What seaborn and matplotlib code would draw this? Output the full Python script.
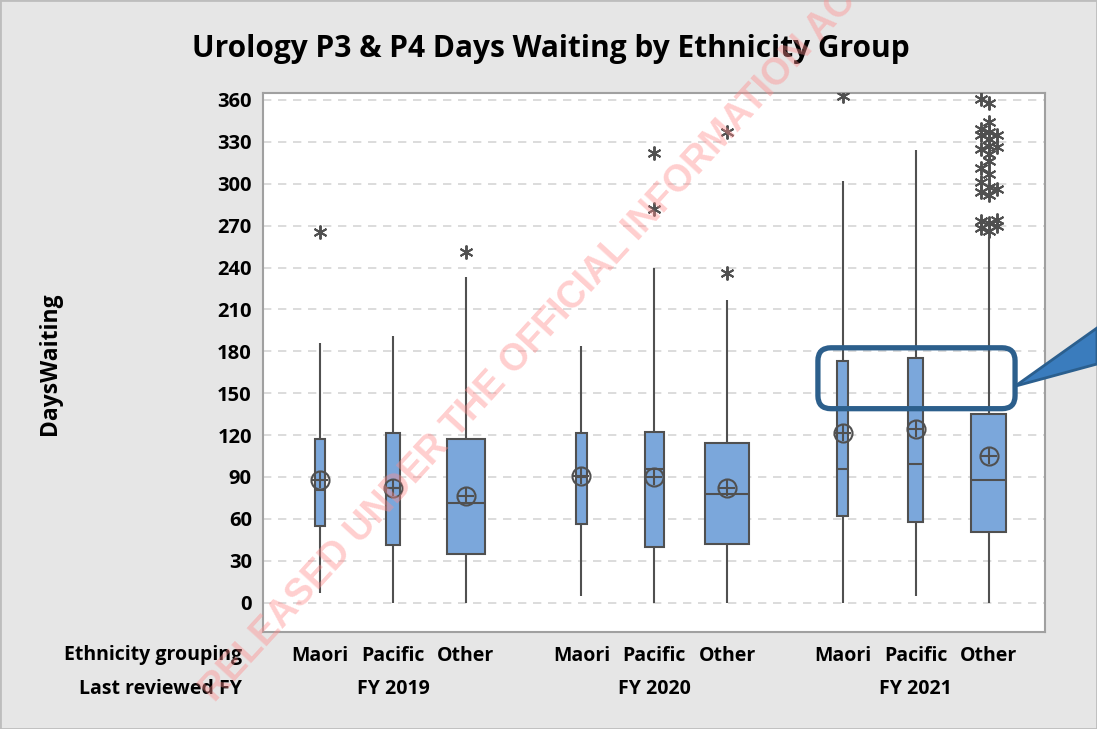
import numpy as np
import pandas as pd
import seaborn as sns
import matplotlib.pyplot as plt
from matplotlib.patches import FancyBboxPatch, Polygon, Rectangle
from matplotlib.transforms import blended_transform_factory

# ----------------------------
# Data
# ----------------------------
years = ["FY 2019", "FY 2020", "FY 2021"]
groups = ["Maori", "Pacific", "Other"]

# per box, in order FY2019 Maori/Pacific/Other, FY2020 ..., FY2021 ...
whisk_low = [7, 0, 0, 5, 0, 0, 0, 5, 0]
q1 = [55, 41, 34.5, 56, 39.5, 42, 62, 57.5, 50.5]
median = [80.5, 82, 71, 90, 96, 78, 95.5, 99.5, 87.5]
q3 = [117.5, 121.5, 117.5, 121.5, 122.5, 114.5, 173, 175.5, 135]
whisk_high = [186, 191, 233, 184, 240, 216.5, 302, 324, 262]
means = [87.5, 82, 76.5, 90.5, 90, 82, 121.5, 124.5, 105]
outliers = [
    [265.5], [], [251],
    [], [282, 322], [236, 337],
    [363], [],
    [266, 268, 270, 272, 273, 274, 292, 294, 296, 298, 301, 307, 311, 316,
     321.5, 325, 326, 327, 332, 335, 335, 337, 339, 344, 357.5, 361],
]

# box widths (Minitab scales them with group size)
box_width = [0.14, 0.2, 0.53, 0.145, 0.26, 0.6, 0.145, 0.2, 0.48]

BOX = "#7BA7DB"
EDGE = "#505050"
FONT = "Open Sans"
W = "bold"

# positions: three boxes per year, with a wider gap between years
positions = [g * 3.58 + i for g in range(len(years)) for i in range(len(groups))]

rows = []
for k, pos in enumerate(positions):
    for v in (whisk_low[k], q1[k], median[k], q3[k], whisk_high[k]):
        rows.append({"box": k, "pos": pos, "days": v})
df = pd.DataFrame(rows)

sns.set_theme(style="white")
plt.rcParams["font.family"] = [FONT, "DejaVu Sans"]
plt.rcParams["text.color"] = "black"

fig = plt.figure(figsize=(10.97, 7.29), dpi=100)
fig.patch.set_facecolor("#E6E6E6")
ax = fig.add_axes([0.2397, 0.1331, 0.7129, 0.7394])
ax.set_facecolor("white")

for k in range(len(positions)):
    sns.boxplot(data=df[df["box"] == k], x="pos", y="days", native_scale=True,
                width=box_width[k], whis=(0, 100), showfliers=False,
                showcaps=False, color=BOX, linecolor=EDGE, linewidth=1.5,
                saturation=1, ax=ax)

# means: circle with a cross
ax.plot(positions, means, ls="none", marker="o", ms=13, mfc="none",
        mec=EDGE, mew=1.5, zorder=5)
ax.plot(positions, means, ls="none", marker="+", ms=11, mec=EDGE,
        mew=1.5, zorder=5)

# outliers as asterisks, nudged sideways where they pile up
for k, vals in enumerate(outliers):
    xs, prev, n = [], None, 0
    for v in sorted(vals):
        n = n + 1 if (prev is not None and v - prev < 5) else 0
        xs.append(positions[k] + [0, -0.11, 0.11][n % 3])
        prev = v
    ax.plot(xs, sorted(vals), ls="none", marker=(6, 2, 0), ms=10,
            mec=EDGE, mew=1.4, zorder=4)

# axes styling
ax.set_xlim(-0.78, 9.93)
ax.set_ylim(-21, 365)
ax.set_yticks(np.arange(0, 361, 30))
ax.set_yticklabels([str(t) for t in range(0, 361, 30)])
ax.set_xticks(positions)
ax.set_xticklabels(groups * len(years))
ax.set_xlabel("")
ax.set_ylabel("")
ax.yaxis.grid(True, ls=(0, (5, 4)), color="#D6D6D6", lw=1.2)
ax.set_axisbelow(True)
for s in ax.spines.values():
    s.set_color("#A0A0A0")
    s.set_linewidth(1.5)
ax.tick_params(axis="both", length=5, color="#A0A0A0", width=1.2,
               labelcolor="black")
ax.tick_params(axis="x", pad=5, labelsize=14)
ax.tick_params(axis="y", pad=3, labelsize=14.5)
for lab in ax.get_xticklabels() + ax.get_yticklabels():
    lab.set_fontweight(W)

# row labels and year labels under the axis
fig.text(242 / 1097, 1 - 655 / 729, "Ethnicity grouping", ha="right",
         va="center", fontsize=14, fontweight=W)
fig.text(242 / 1097, 1 - 689 / 729, "Last reviewed FY", ha="right",
         va="center", fontsize=14, fontweight=W)
trans = blended_transform_factory(ax.transData, fig.transFigure)
for g, yr in enumerate(years):
    fig.text(positions[g * 3 + 1], 1 - 689 / 729, yr, transform=trans,
             ha="center", va="center", fontsize=14, fontweight=W)

fig.text(0.502, 1 - 49 / 729, "Urology P3 & P4 Days Waiting by Ethnicity Group",
         ha="center", va="center", fontsize=21.5, fontweight=W)
fig.text(50 / 1097, 1 - 364 / 729, "DaysWaiting", rotation=90, ha="center",
         va="center", fontsize=16.5, fontweight=W)

# callout box around the FY2021 upper quartiles
(x0, y0) = ax.transData.transform((6.82, 138.9))
(x1, y1) = ax.transData.transform((9.52, 182.5))
call = FancyBboxPatch((x0, y0), x1 - x0, y1 - y0,
                      boxstyle="round,pad=0,rounding_size=13",
                      transform=None, fill=False, ec="#2C5F8C", lw=3.8,
                      zorder=6, clip_on=False)
ax.add_artist(call)
apex = fig.transFigure.inverted().transform(ax.transData.transform((9.52, 155)))
wedge = Polygon([apex, (1.0, 1 - 328 / 729), (1.0, 1 - 364 / 729)],
                closed=True, transform=fig.transFigure, fc="#3A7CBD",
                ec="#2B5F8E", lw=2, zorder=6)
fig.patches.append(wedge)

# thin frame round the whole picture
fig.patches.append(Rectangle((0, 0), 1, 1, transform=fig.transFigure,
                             fill=False, ec="#BDBDBD", lw=2, zorder=0))

# watermark
fig.text(215 / 1097, 1 - 703 / 729, "RELEASED UNDER THE OFFICIAL INFORMATION ACT",
         rotation=47.5, rotation_mode="anchor", ha="left", va="baseline",
         fontsize=27, fontweight="bold", color="#FF8C8C", alpha=0.42,
         family="Liberation Sans", zorder=10)

plt.savefig("out.png", dpi=100, facecolor=fig.get_facecolor())
